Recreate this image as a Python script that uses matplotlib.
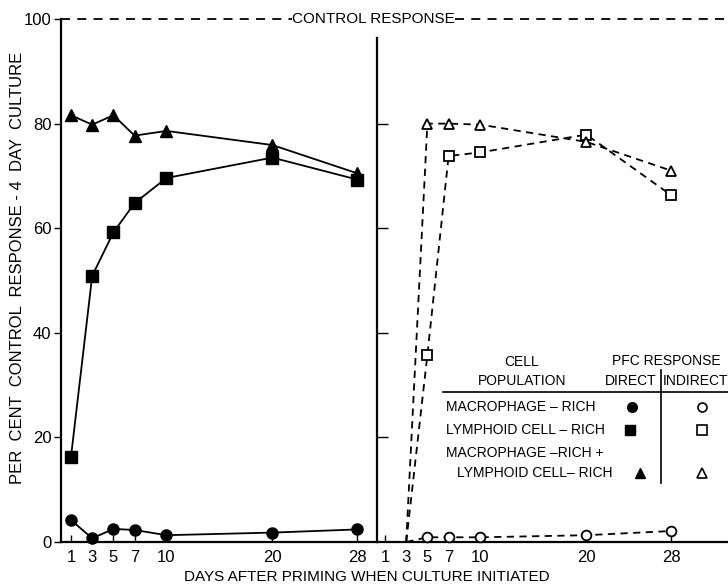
import matplotlib.pyplot as plt
from matplotlib.lines import Line2D

plt.rcParams['font.family'] = ['Liberation Sans', 'DejaVu Sans']

days = [1, 3, 5, 7, 10, 20, 28]
day_labels = ['1', '3', '5', '7', '10', '20', '28']

# direct PFC response (left panel)
macro_direct = [4.2, 0.7, 2.5, 2.3, 1.3, 1.8, 2.4]
lymph_direct = [16.3, 50.9, 59.2, 64.8, 69.6, 73.5, 69.3]
mixed_direct = [81.6, 79.8, 81.6, 77.7, 78.6, 75.9, 70.5]

# indirect PFC response (right panel), starts at day 3
days_ind = [3, 5, 7, 10, 20, 28]
macro_indirect = [0, 0.9, 0.9, 0.9, 1.3, 2.1]
lymph_indirect = [0, 35.8, 73.8, 74.5, 77.9, 66.3]
mixed_indirect = [0, 80.0, 80.0, 79.8, 76.5, 71.0]

W, H = 728, 586
fig = plt.figure(figsize=(W / 100, H / 100), dpi=100)


def fx(px):
    return px / W


def fy(py):
    return 1 - py / H


y0, y1 = fy(542), fy(19)
axL = fig.add_axes([fx(61), y0, fx(377) - fx(61), y1 - y0])
axR = fig.add_axes([fx(377), y0, fx(728) - fx(377), y1 - y0])

scale = 10.6  # px per day
axL.set_xlim(1 - 10 / scale, 1 + 306 / scale)
axR.set_xlim(1 - 8 / scale, 1 + 351 / scale - 8 / scale)

fs = 12
for ax in (axL, axR):
    ax.set_ylim(0, 100)
    ax.set_facecolor('none')
    ax.spines['top'].set_visible(False)
    ax.spines['right'].set_visible(False)
    for s in ('left', 'bottom'):
        ax.spines[s].set_linewidth(1.6)
    ax.set_xticks(days)
    ax.set_xticklabels(day_labels, fontsize=fs)
    ax.tick_params(axis='x', direction='in', length=5, width=1, pad=6)

axL.set_yticks([0, 20, 40, 60, 80, 100])
axL.tick_params(axis='y', direction='out', length=5, width=1, labelsize=fs, pad=2)
axR.set_yticks([20, 40, 60, 80])
axR.set_yticklabels([])
axR.tick_params(axis='y', direction='in', length=8, width=1)
axR.spines['left'].set_bounds(0, 96.3)

mk = dict(color='black', lw=1.3, clip_on=False, zorder=3)
axL.plot(days, macro_direct, marker='o', ms=8, **mk)
axL.plot(days, lymph_direct, marker='s', ms=8, **mk)
axL.plot(days, mixed_direct, marker='^', ms=8.5, **mk)

dk = dict(color='black', lw=1.3, ls=(0, (4, 3)), clip_on=False, zorder=3,
          mfc='white', mew=1.3, markevery=list(range(1, len(days_ind))))
axR.plot(days_ind, macro_indirect, marker='o', ms=7, **dk)
axR.plot(days_ind, lymph_indirect, marker='s', ms=7, **dk)
axR.plot(days_ind, mixed_indirect, marker='^', ms=7.5, **dk)

# control response line at 100%
axL.axhline(100, xmax=(292 - 61) / 316, color='black', lw=1.3,
            ls=(0, (5, 4)), clip_on=False)
axR.axhline(100, xmin=(455 - 377) / 351, color='black', lw=1.3,
            ls=(0, (5, 4)), clip_on=False)
fig.text(fx(373), fy(19), 'CONTROL RESPONSE', ha='center', va='center', fontsize=11)

fig.text(fx(18), fy(268), 'PER  CENT  CONTROL  RESPONSE - 4  DAY  CULTURE',
         rotation=90, ha='center', va='center', fontsize=fs)
fig.text(fx(367), fy(577), 'DAYS AFTER PRIMING WHEN CULTURE INITIATED',
         ha='center', va='center', fontsize=11)

# key table
kfs = 10
fig.text(fx(522), fy(362), 'CELL', ha='center', va='center', fontsize=kfs)
fig.text(fx(522), fy(381), 'POPULATION', ha='center', va='center', fontsize=kfs)
fig.text(fx(666), fy(361), 'PFC RESPONSE', ha='center', va='center', fontsize=kfs)
fig.text(fx(631), fy(381), 'DIRECT', ha='center', va='center', fontsize=kfs)
fig.text(fx(663), fy(381), 'INDIRECT', ha='left', va='center', fontsize=kfs)
fig.add_artist(Line2D([fx(443), fx(728)], [fy(392), fy(392)], color='black', lw=1.2))
fig.add_artist(Line2D([fx(661), fx(661)], [fy(370), fy(483)], color='black', lw=1.2))

rows = [
    ('MACROPHAGE – RICH', 446, 407, 'o', 632),
    ('LYMPHOID CELL – RICH', 446, 430, 's', 630),
    ('LYMPHOID CELL– RICH', 457, 473, '^', 640),
]
fig.text(fx(446), fy(453), 'MACROPHAGE –RICH +', ha='left', va='center', fontsize=kfs)
for label, tx, ty, m, mx in rows:
    fig.text(fx(tx), fy(ty), label, ha='left', va='center', fontsize=kfs)
    fig.add_artist(Line2D([fx(mx)], [fy(ty)], marker=m, ms=7, color='black', ls='none'))
    fig.add_artist(Line2D([fx(702)], [fy(ty)], marker=m, ms=6.5, color='black',
                          mfc='white', mew=1.2, ls='none'))

fig.savefig('out.png', dpi=100)
